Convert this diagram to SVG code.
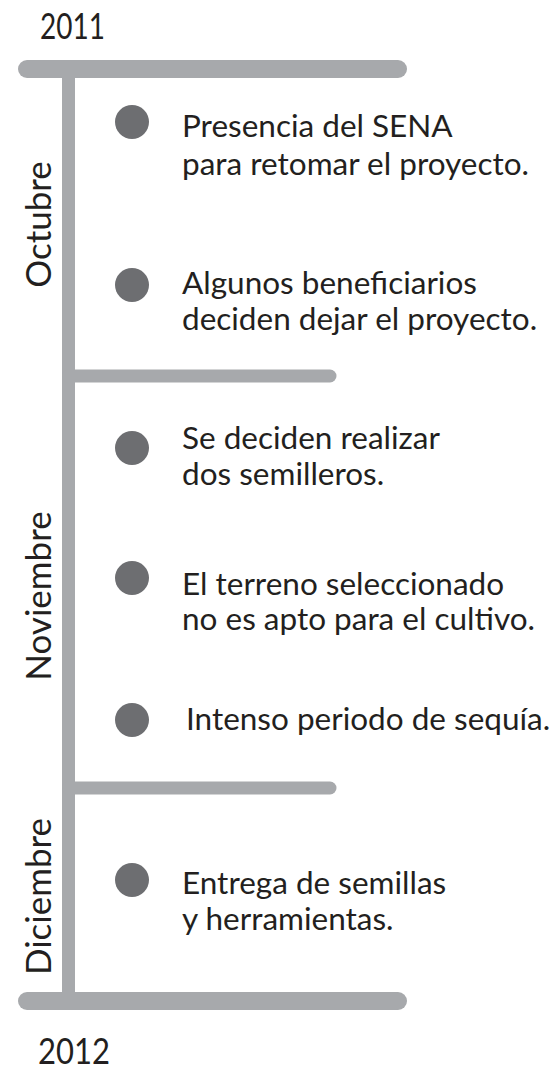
<svg xmlns="http://www.w3.org/2000/svg" width="550" height="1070" viewBox="0 0 550 1070">
<style>
.bar{stroke:#a7a9ac;stroke-linecap:round;fill:none}
.thick{stroke-width:18}
.thin{stroke-width:13}
.dot{fill:#6d6e71}
.t{font-family:Lato,"Liberation Sans",sans-serif;fill:#231f20}
.ev{font-size:31.5px}
.yr{font-size:37px}
.mo{font-size:35px;text-anchor:middle}
</style>
<rect width="550" height="1070" fill="#ffffff"/>
<g id="connectors">
<line class="bar thin" x1="68.5" y1="69" x2="68.5" y2="1001" style="stroke-linecap:butt"/>
<line class="bar thick" x1="27" y1="69" x2="398" y2="69"/>
<line class="bar thin" x1="68.5" y1="376" x2="330" y2="376"/>
<line class="bar thin" x1="68.5" y1="788" x2="330" y2="788"/>
<line class="bar thick" x1="27" y1="1001" x2="398" y2="1001"/>
</g>
<g id="year-2011"><text class="t yr" x="40" y="39" textLength="65" lengthAdjust="spacingAndGlyphs">2011</text></g>
<g id="year-2012"><text class="t yr" x="38" y="1064" textLength="72" lengthAdjust="spacingAndGlyphs">2012</text></g>
<g id="month-octubre"><text class="t mo" transform="translate(51,224.5) rotate(-90)">Octubre</text></g>
<g id="month-noviembre"><text class="t mo" transform="translate(51,596) rotate(-90)">Noviembre</text></g>
<g id="month-diciembre"><text class="t mo" transform="translate(51,896.5) rotate(-90)">Diciembre</text></g>
<g id="event-1">
<circle class="dot" cx="132" cy="122" r="17"/>
<text class="t ev" x="182" y="137">Presencia del SENA</text>
<text class="t ev" x="182" y="175">para retomar el proyecto.</text>
</g>
<g id="event-2">
<circle class="dot" cx="132" cy="285" r="17"/>
<text class="t ev" x="182" y="294">Algunos beneficiarios</text>
<text class="t ev" x="182" y="330">deciden dejar el proyecto.</text>
</g>
<g id="event-3">
<circle class="dot" cx="132" cy="448" r="17"/>
<text class="t ev" x="182" y="449">Se deciden realizar</text>
<text class="t ev" x="182" y="485">dos semilleros.</text>
</g>
<g id="event-4">
<circle class="dot" cx="132" cy="578" r="17"/>
<text class="t ev" x="182" y="595">El terreno seleccionado</text>
<text class="t ev" x="182" y="630">no es apto para el cultivo.</text>
</g>
<g id="event-5">
<circle class="dot" cx="132" cy="720" r="17"/>
<text class="t ev" x="186" y="730">Intenso periodo de sequía.</text>
</g>
<g id="event-6">
<circle class="dot" cx="132" cy="880" r="17"/>
<text class="t ev" x="182" y="894">Entrega de semillas</text>
<text class="t ev" x="182" y="930">y herramientas.</text>
</g>
</svg>
